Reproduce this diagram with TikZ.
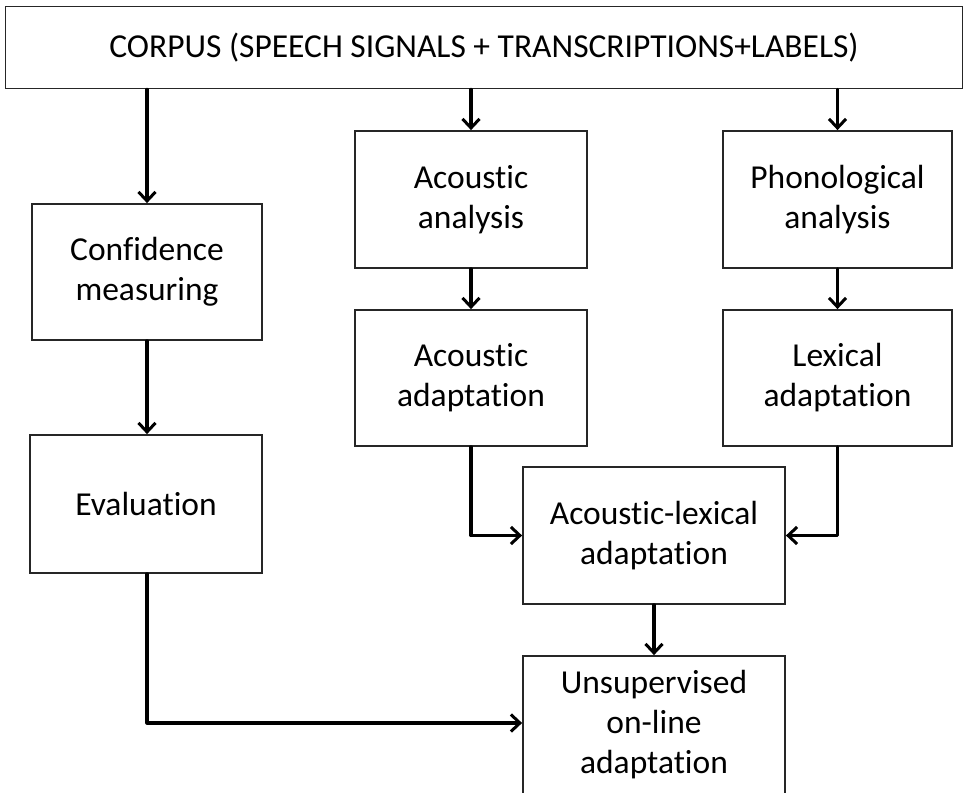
\documentclass[tikz,border=0pt]{standalone}
\usepackage{fontspec}
\setmainfont[Ligatures=NoCommon]{Carlito}
\usetikzlibrary{arrows.meta}
\begin{document}
\begin{tikzpicture}[x=1pt,y=-1pt,
  box/.style={draw=black!85,line width=1.8pt,fill=white,inner sep=0pt,
    align=center,font=\fontsize{33.5}{40}\selectfont},
  flow/.style={line width=3.2pt,line cap=round,line join=round,
    -{Straight Barb[length=9pt,width=17pt,line width=3pt]}}]
\useasboundingbox[fill=white] (0,0) rectangle (963,792);
% boxes, given by their centres and sizes
\node[box,minimum width=957pt,minimum height=82pt] (corpus) at (484,47.5)
  {CORPUS (SPEECH SIGNALS + TRANSCRIPTIONS+LABELS)};
\node[box,minimum width=230pt,minimum height=136pt] (conf) at (147,272) {Confidence\\measuring};
\node[box,minimum width=232pt,minimum height=138pt] (eval) at (146,504) {Evaluation};
\node[box,minimum width=232pt,minimum height=137pt] (acan) at (471,199.5) {Acoustic\\analysis};
\node[box,minimum width=229pt,minimum height=137pt] (phan) at (837.5,199.5) {Phonological\\analysis};
\node[box,minimum width=232pt,minimum height=136pt] (acad) at (471,378) {Acoustic\\adaptation};
\node[box,minimum width=229pt,minimum height=136pt] (lexad) at (837.5,378) {Lexical\\adaptation};
\node[box,minimum width=262pt,minimum height=137pt] (aclex) at (654,535.5) {Acoustic-lexical\\adaptation};
\node[box,minimum width=262pt,minimum height=138pt] (unsup) at (654,725) {Unsupervised\\on-line\\adaptation};
% connectors
\draw[flow] (corpus.south -| conf.north) -- (conf.north);
\draw[flow] (corpus.south -| acan.north) -- (acan.north);
\draw[flow] (corpus.south -| phan.north) -- (phan.north);
\draw[flow] (conf.south) -- (conf.south |- eval.north);
\draw[flow] (acan.south) -- (acad.north);
\draw[flow] (phan.south) -- (lexad.north);
\draw[flow] (acad.south) |- (aclex.west);
\draw[flow] (lexad.south) |- (aclex.east);
\draw[flow] (aclex.south) -- (unsup.north);
\draw[flow] (eval.south -| conf.south) |- ([yshift=2pt]unsup.west);
\end{tikzpicture}
\end{document}
